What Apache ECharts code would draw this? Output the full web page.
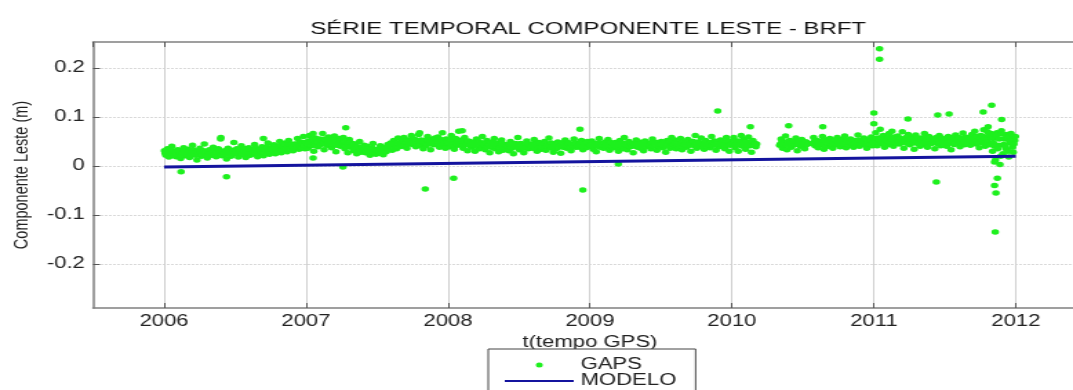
<!DOCTYPE html>
<html>
<head>
<meta charset="utf-8">
<script src="https://cdn.jsdelivr.net/npm/echarts@6/dist/echarts.min.js"></script>
<style>
html,body{margin:0;padding:0;background:#fff;overflow:hidden;width:1073px;height:390px;}
#c{width:800px;height:390px;transform:scaleX(1.37918);transform-origin:0 0;}
</style>
</head>
<body>
<div id="c"></div>
<script>
// ---- DATA ----
const titleText = 'SÉRIE TEMPORAL COMPONENTE LESTE - BRFT';
const xAxisTitle = 't(tempo GPS)';
const yAxisTitle = 'Componente Leste (m)';
const seriesNames = ['GAPS', 'MODELO'];
const xTickLabels = ['2006','2007','2008','2009','2010','2011','2012'];
const yTickLabels = ['-0.2','-0.1','0','0.1','0.2'];

// GAPS solutions, two samples sets per year, 8 per month each (null = no solution)
const gaps2006 = [
 0.031,0.022,0.035,0.018,0.027,0.040,0.024,0.030,
 0.019,0.033,0.026,0.015,0.029,0.037,0.021,0.028,
 0.034,0.017,0.025,0.042,0.023,0.030,0.012,0.027,
 0.036,0.020,0.028,0.045,0.024,0.016,0.031,0.026,
 0.022,0.038,0.029,0.019,0.033,0.025,0.055,0.021,
 0.030,0.024,0.014,0.036,0.027,0.020,0.032,0.048,
 0.026,0.035,0.018,0.029,0.041,0.023,0.031,0.017,
 0.028,0.037,0.022,0.033,0.025,0.044,0.030,0.019,
 0.034,0.026,0.039,0.021,0.031,0.028,0.047,0.024,
 0.036,0.029,0.043,0.025,0.038,0.032,0.050,0.027,
 0.040,0.033,0.047,0.029,0.052,0.036,0.044,0.031,
 0.045,0.038,0.056,0.034,0.049,0.041,0.060,0.035];
const gaps2006b = [
 0.026,0.029,0.023,0.027,0.032,0.025,0.021,0.028,
 0.024,0.030,0.027,0.022,0.026,0.031,0.025,0.028,
 0.029,0.023,0.027,0.033,0.026,0.022,0.028,0.025,
 0.028,0.024,0.031,0.026,0.022,0.029,0.033,0.025,
 0.027,0.031,0.024,0.028,0.035,0.026,0.023,0.030,
 0.025,0.029,0.033,0.027,0.022,0.028,0.031,0.026,
 0.030,0.026,0.033,0.028,0.024,0.031,0.035,0.027,
 0.029,0.034,0.026,0.031,0.028,0.036,0.025,0.030,
 0.033,0.029,0.036,0.027,0.031,0.038,0.030,0.034,
 0.035,0.031,0.039,0.034,0.029,0.037,0.041,0.033,
 0.038,0.042,0.035,0.040,0.036,0.044,0.039,0.037,
 0.043,0.039,0.046,0.041,0.037,0.045,0.042,0.048];
const gaps2007 = [
 0.048,0.036,0.062,0.041,0.053,0.030,0.057,0.044,
 0.039,0.055,0.046,0.066,0.033,0.050,0.042,0.059,
 0.052,0.037,0.047,0.061,0.029,0.044,0.056,0.040,
 0.043,0.058,0.035,0.049,0.027,0.054,0.038,0.046,
 0.031,0.045,0.025,0.038,0.050,0.028,0.036,0.042,
 0.027,0.040,0.033,0.022,0.036,0.046,0.030,0.024,
 0.034,0.026,0.041,0.030,0.023,0.037,0.029,0.044,
 0.038,0.047,0.032,0.052,0.041,0.035,0.057,0.043,
 0.049,0.040,0.058,0.045,0.036,0.053,0.047,0.062,
 0.044,0.055,0.039,0.050,0.064,0.042,0.048,0.035,
 0.052,0.041,0.060,0.046,0.033,0.054,0.043,0.057,
 0.047,0.059,0.038,0.051,0.068,0.044,0.036,0.053];
const gaps2007b = [
 0.046,0.051,0.043,0.049,0.054,0.045,0.041,0.050,
 0.048,0.044,0.052,0.047,0.055,0.043,0.049,0.046,
 0.050,0.045,0.053,0.048,0.042,0.051,0.047,0.044,
 0.045,0.049,0.041,0.046,0.043,0.048,0.040,0.044,
 0.036,0.033,0.039,0.031,0.035,0.038,0.032,0.034,
 0.030,0.034,0.028,0.032,0.036,0.029,0.033,0.031,
 0.032,0.029,0.035,0.031,0.034,0.030,0.036,0.033,
 0.040,0.043,0.038,0.045,0.041,0.047,0.039,0.044,
 0.046,0.050,0.044,0.048,0.052,0.045,0.049,0.047,
 0.048,0.052,0.045,0.050,0.046,0.053,0.049,0.047,
 0.049,0.045,0.052,0.047,0.051,0.046,0.053,0.048,
 0.050,0.046,0.054,0.048,0.052,0.047,0.055,0.049];
const gaps2008 = [
 0.050,0.039,0.062,0.045,0.034,0.056,0.042,0.071,
 0.044,0.053,0.036,0.058,0.047,0.031,0.050,0.041,
 0.038,0.049,0.030,0.055,0.043,0.035,0.046,0.060,
 0.041,0.033,0.052,0.045,0.027,0.048,0.037,0.056,
 0.035,0.047,0.029,0.040,0.053,0.032,0.044,0.038,
 0.042,0.031,0.050,0.036,0.025,0.045,0.039,0.058,
 0.033,0.046,0.038,0.027,0.043,0.051,0.035,0.040,
 0.045,0.036,0.054,0.041,0.030,0.048,0.043,0.034,
 0.039,0.050,0.032,0.044,0.057,0.037,0.046,0.028,
 0.043,0.035,0.049,0.040,0.026,0.047,0.038,0.053,
 0.036,0.048,0.041,0.031,0.045,0.055,0.039,0.044,
 0.047,0.038,0.052,0.033,0.043,0.037,0.050,0.041];
const gaps2008b = [
 0.047,0.052,0.044,0.049,0.055,0.046,0.050,0.043,
 0.046,0.050,0.043,0.048,0.045,0.051,0.042,0.047,
 0.044,0.048,0.041,0.046,0.050,0.043,0.047,0.045,
 0.042,0.046,0.039,0.044,0.048,0.041,0.045,0.043,
 0.040,0.044,0.038,0.042,0.046,0.039,0.043,0.041,
 0.041,0.045,0.038,0.043,0.040,0.046,0.039,0.042,
 0.039,0.043,0.037,0.041,0.045,0.038,0.042,0.040,
 0.041,0.044,0.038,0.043,0.040,0.046,0.039,0.042,
 0.042,0.046,0.040,0.044,0.041,0.047,0.039,0.043,
 0.040,0.044,0.038,0.042,0.046,0.039,0.043,0.041,
 0.041,0.045,0.039,0.043,0.040,0.046,0.038,0.042,
 0.042,0.046,0.040,0.044,0.041,0.047,0.039,0.043];
const gaps2009 = [
 0.040,0.051,0.034,0.046,0.029,0.043,0.056,0.038,
 0.045,0.036,0.049,0.041,0.054,0.032,0.047,0.039,
 0.037,0.048,0.043,0.030,0.052,0.040,0.035,0.058,
 0.044,0.033,0.050,0.039,0.046,0.027,0.042,0.053,
 0.038,0.049,0.036,0.045,0.031,0.051,0.040,0.047,
 0.043,0.035,0.055,0.041,0.048,0.032,0.046,0.039,
 0.050,0.037,0.044,0.028,0.052,0.042,0.036,0.058,
 0.041,0.053,0.035,0.047,0.039,0.056,0.033,0.045,
 0.048,0.038,0.054,0.043,0.030,0.050,0.044,0.062,
 0.036,0.049,0.041,0.057,0.045,0.034,0.052,0.040,
 0.046,0.037,0.060,0.043,0.051,0.032,0.048,0.039,
 0.053,0.041,0.047,0.035,0.058,0.044,0.030,0.050];
const gaps2009b = [
 0.042,0.046,0.040,0.044,0.041,0.047,0.039,0.043,
 0.043,0.047,0.041,0.045,0.042,0.048,0.040,0.044,
 0.042,0.046,0.039,0.044,0.041,0.047,0.040,0.043,
 0.043,0.047,0.041,0.045,0.040,0.046,0.042,0.044,
 0.041,0.045,0.039,0.043,0.047,0.040,0.044,0.042,
 0.043,0.047,0.041,0.045,0.042,0.048,0.040,0.044,
 0.044,0.048,0.042,0.046,0.043,0.049,0.041,0.045,
 0.043,0.047,0.041,0.045,0.042,0.048,0.040,0.044,
 0.044,0.048,0.042,0.046,0.043,0.050,0.041,0.045,
 0.043,0.047,0.041,0.045,0.042,0.048,0.040,0.044,
 0.044,0.048,0.042,0.046,0.043,0.049,0.041,0.045,
 0.045,0.049,0.043,0.047,0.044,0.050,0.042,0.046];
const gaps2010 = [
 0.045,0.058,0.037,0.051,0.030,0.048,0.062,0.040,
 0.054,0.034,0.047,0.059,0.041,0.028,0.052,0.044,
 0.039,null,null,null,null,null,null,null,
 null,null,null,null,null,null,null,null,
 0.042,0.055,0.036,0.048,0.061,0.033,0.046,0.052,
 0.038,0.050,0.044,0.057,0.031,0.047,0.040,0.054,
 0.043,0.035,0.049,null,null,null,0.046,0.058,
 0.041,0.052,0.037,0.049,0.044,0.060,0.034,0.047,
 0.053,0.040,0.056,0.045,0.036,0.050,0.043,0.058,
 0.047,0.039,0.054,0.044,0.061,0.037,0.049,0.042,
 0.055,0.045,0.038,0.052,0.047,0.063,0.040,0.050,
 0.044,0.057,0.048,0.036,0.053,0.046,0.059,0.041];
const gaps2010b = [
 0.046,0.050,0.043,0.048,0.044,0.051,0.042,0.047,
 0.045,0.049,0.043,0.047,0.044,0.050,0.042,0.046,
 0.045,null,null,null,null,null,null,null,
 null,null,null,null,null,null,null,null,
 0.045,0.049,0.043,0.047,0.044,0.050,0.042,0.046,
 0.046,0.050,0.044,0.048,0.045,0.051,0.043,0.047,
 0.045,0.049,0.044,null,null,null,0.046,0.050,
 0.047,0.051,0.045,0.049,0.046,0.052,0.044,0.048,
 0.048,0.052,0.046,0.050,0.047,0.053,0.045,0.049,
 0.047,0.051,0.045,0.049,0.046,0.052,0.044,0.048,
 0.048,0.052,0.046,0.050,0.047,0.053,0.045,0.049,
 0.047,0.051,0.045,0.049,0.046,0.052,0.044,0.048];
const gaps2011 = [
 0.052,0.068,0.041,0.057,0.075,0.046,0.062,0.038,
 0.055,0.043,0.066,0.049,0.071,0.040,0.058,0.047,
 0.061,0.045,0.053,0.070,0.036,0.056,0.048,0.064,
 0.043,0.059,0.050,0.034,0.063,0.047,0.055,0.040,
 0.057,0.044,0.066,0.051,0.038,0.060,0.046,0.053,
 0.049,0.035,0.058,0.045,0.062,0.041,0.054,0.047,
 0.052,0.040,0.060,0.047,0.033,0.056,0.044,0.063,
 0.046,0.058,0.039,0.053,0.067,0.043,0.050,0.057,
 0.055,0.042,0.064,0.049,0.071,0.045,0.059,0.037,
 0.062,0.048,0.074,0.040,0.057,0.080,0.045,0.066,
 0.030,0.058,0.012,0.068,0.042,0.003,0.072,0.025,
 0.055,0.035,0.064,0.018,0.047,0.060,0.028,0.052];
const gaps2011b = [
 0.051,0.056,0.048,0.053,0.049,0.058,0.046,0.054,
 0.052,0.057,0.049,0.054,0.050,0.059,0.047,0.055,
 0.051,0.056,0.048,0.053,0.049,0.058,0.046,0.054,
 0.050,0.055,0.047,0.052,0.048,0.057,0.045,0.053,
 0.051,0.056,0.048,0.053,0.049,0.058,0.046,0.054,
 0.050,0.055,0.047,0.052,0.048,0.057,0.045,0.053,
 0.051,0.056,0.048,0.053,0.049,0.058,0.046,0.054,
 0.052,0.057,0.049,0.054,0.050,0.059,0.047,0.055,
 0.053,0.058,0.050,0.055,0.051,0.060,0.048,0.056,
 0.052,0.060,0.046,0.056,0.049,0.063,0.043,0.057,
 0.048,0.040,0.062,0.035,0.055,0.020,0.065,0.044,
 0.040,0.058,0.030,0.050,0.066,0.038,0.045,0.060];
const gapsYears = [2006, 2007, 2008, 2009, 2010, 2011];

// isolated GAPS solutions away from the main band
const outlierYears  = [2006.12, 2006.44, 2007.28, 2007.26, 2007.84, 2008.04, 2008.95, 2008.93, 2009.90, 2009.20,
                       2011.04, 2011.04, 2011.00, 2011.00, 2011.24, 2011.45, 2011.53, 2011.44, 2011.83, 2011.77,
                       2011.87, 2011.85, 2011.86, 2011.855, 2011.85, 2010.40, 2010.13, 2010.64, 2006.40, 2006.70,
                       2007.05, 2007.80, 2008.10, 2011.80, 2011.90, 2007.05];
const outlierValues = [-0.012, -0.022, 0.078, -0.002, -0.047, -0.025, -0.049, 0.075, 0.112, 0.004,
                       0.239, 0.218, 0.108, 0.086, 0.096, 0.104, 0.106, -0.033, 0.124, 0.110,
                       -0.025, -0.040, -0.055, -0.135, 0.008, 0.082, 0.080, 0.080, 0.058, 0.056,
                       0.066, 0.068, 0.072, 0.070, 0.095, 0.016];

// linear model
const modelYears  = [2006.0, 2012.0];
const modelValues = [-0.002, 0.020];

// ---- BUILD ----
const setA = [gaps2006, gaps2007, gaps2008, gaps2009, gaps2010, gaps2011];
const setB = [gaps2006b, gaps2007b, gaps2008b, gaps2009b, gaps2010b, gaps2011b];
const gapsData = [];
function addSet(sets, shift) {
  sets.forEach((arr, k) => {
    arr.forEach((v, i) => {
      if (v !== null) gapsData.push([gapsYears[k] + (i + shift) / arr.length, v]);
    });
  });
}
addSet(setA, 0.25);
addSet(setB, 0.75);
outlierYears.forEach((t, i) => gapsData.push([t, outlierValues[i]]));
const modelData = modelYears.map((t, i) => [t, modelValues[i]]);

const FONT = "'Liberation Sans', Arial, sans-serif";
const chart = echarts.init(document.getElementById('c'));
const xFmt = v => {
  const r = Math.round(v);
  return Math.abs(v - r) < 1e-6 && xTickLabels.indexOf(String(r)) >= 0 ? String(r) : '';
};
const yFmt = v => {
  const r = Math.round(v * 10);
  if (Math.abs(v * 10 - r) > 1e-6) return '';
  const s = r === 0 ? '0' : String(r / 10);
  return yTickLabels.indexOf(s) >= 0 ? s : '';
};
const axisGray = '#808080';
chart.setOption({
  animation: false,
  backgroundColor: '#fff',
  title: {
    text: titleText, left: 220, top: 16,
    textStyle: { fontFamily: FONT, fontSize: 17.4, fontWeight: 'normal', color: '#111' }
  },
  grid: { left: 65, right: 12, top: 42, bottom: 82 },
  legend: {
    orient: 'vertical', left: 354, top: 349, height: 80,
    itemWidth: 50, itemHeight: 5, itemGap: 0,
    borderColor: '#444', borderWidth: 1, padding: [8, 14, 6, 11],
    backgroundColor: '#fff',
    textStyle: { fontFamily: FONT, fontSize: 16, color: '#222' },
    data: [
      { name: seriesNames[0], icon: 'circle' },
      { name: seriesNames[1], itemStyle: { opacity: 0 } }
    ]
  },
  xAxis: [{
    type: 'value', min: 2005.5, max: 2012.5, splitNumber: 7,
    name: xAxisTitle, nameLocation: 'middle', nameGap: 26,
    nameTextStyle: { fontFamily: FONT, fontSize: 16, color: '#222' },
    axisLine: { show: true, onZero: false, lineStyle: { color: axisGray, width: 1.5 } },
    axisTick: { show: true, inside: true, length: 5, lineStyle: { color: '#555' } },
    axisLabel: { formatter: xFmt, fontFamily: FONT, fontSize: 16, color: '#222', margin: 6, showMinLabel: false, showMaxLabel: false },
    splitLine: { show: true, showMinLine: false, showMaxLine: false, lineStyle: { color: '#cfcfcf', width: 1 } }
  }, {
    type: 'value', position: 'top', min: 2005.5, max: 2012.5, splitNumber: 7,
    axisLine: { show: true, onZero: false, lineStyle: { color: axisGray, width: 1.5 } },
    axisTick: { show: true, inside: true, length: 5, lineStyle: { color: '#555' } },
    axisLabel: { show: false },
    splitLine: { show: false }
  }],
  yAxis: {
    type: 'value', min: -0.29, max: 0.253, splitNumber: 5,
    name: yAxisTitle, nameLocation: 'middle', nameGap: 41, nameRotate: 90,
    nameTextStyle: { fontFamily: FONT, fontSize: 14.5, color: '#222' },
    axisLine: { show: true, onZero: false, lineStyle: { color: axisGray, width: 1.5 } },
    axisTick: { show: true, inside: true, length: 5, lineStyle: { color: '#555' } },
    axisLabel: { formatter: yFmt, fontFamily: FONT, fontSize: 16, color: '#222', margin: 6, showMinLabel: false, showMaxLabel: false },
    splitLine: { show: true, showMinLine: false, showMaxLine: false, lineStyle: { color: '#b5b5b5', width: 1, type: [1, 2] } }
  },
  series: [{
    name: seriesNames[0], type: 'scatter', data: gapsData,
    symbol: 'circle', symbolSize: 5.5,
    itemStyle: { color: '#1ef01e', opacity: 1 },
    z: 2
  }, {
    name: seriesNames[1], type: 'line', data: modelData,
    symbol: 'none', lineStyle: { color: '#14149e', width: 3 },
    itemStyle: { color: '#14149e' },
    z: 3
  }]
});
</script>
</body>
</html>
